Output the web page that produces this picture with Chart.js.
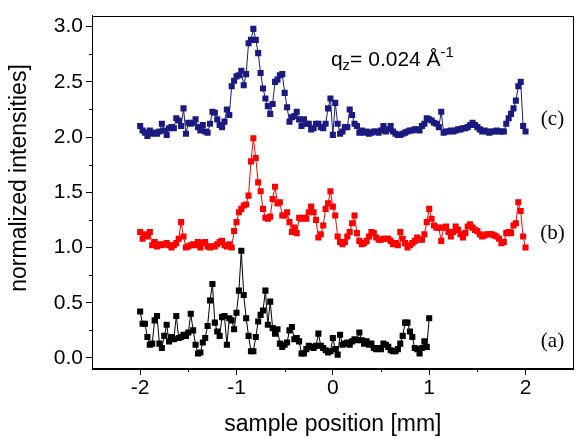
<!DOCTYPE html>
<html>
<head>
<meta charset="utf-8">
<script src="https://cdn.jsdelivr.net/npm/chart.js@4/dist/chart.umd.min.js"></script>
<style>
  html, body { margin: 0; padding: 0; background: #fff; }
  #wrap { width: 578px; height: 439px; }
</style>
</head>
<body>
<div id="wrap"><canvas id="chart" width="578" height="439"></canvas></div>
<script>
// sample positions in mm (shared by all three scans)
const positions = [
  -2.000, -1.975, -1.950, -1.925, -1.900, -1.875, -1.850, -1.825, -1.800, -1.775,
  -1.750, -1.725, -1.700, -1.675, -1.650, -1.625, -1.600, -1.575, -1.550, -1.525,
  -1.500, -1.475, -1.450, -1.425, -1.400, -1.375, -1.350, -1.325, -1.300, -1.275,
  -1.250, -1.225, -1.200, -1.175, -1.150, -1.125, -1.100, -1.075, -1.050, -1.025,
  -1.000, -0.975, -0.950, -0.925, -0.900, -0.875, -0.850, -0.825, -0.800, -0.775,
  -0.750, -0.725, -0.700, -0.675, -0.650, -0.625, -0.600, -0.575, -0.550, -0.525,
  -0.500, -0.475, -0.450, -0.425, -0.400, -0.375, -0.350, -0.325, -0.300, -0.275,
  -0.250, -0.225, -0.200, -0.175, -0.150, -0.125, -0.100, -0.075, -0.050, -0.025,
  0.000, 0.025, 0.050, 0.075, 0.100, 0.125, 0.150, 0.175, 0.200, 0.225,
  0.250, 0.275, 0.300, 0.325, 0.350, 0.375, 0.400, 0.425, 0.450, 0.475,
  0.500, 0.525, 0.550, 0.575, 0.600, 0.625, 0.650, 0.675, 0.700, 0.725,
  0.750, 0.775, 0.800, 0.825, 0.850, 0.875, 0.900, 0.925, 0.950, 0.975,
  1.000, 1.025, 1.050, 1.075, 1.100, 1.125, 1.150, 1.175, 1.200, 1.225,
  1.250, 1.275, 1.300, 1.325, 1.350, 1.375, 1.400, 1.425, 1.450, 1.475,
  1.500, 1.525, 1.550, 1.575, 1.600, 1.625, 1.650, 1.675, 1.700, 1.725,
  1.750, 1.775, 1.800, 1.825, 1.850, 1.875, 1.900, 1.925, 1.950, 1.975,
  2.000
];

// (a) – measured only from -2 to 1 mm
const scanA = [
  0.42, 0.31, 0.31, 0.19, 0.12, 0.13, 0.34, 0.38, 0.13, 0.09,
  0.20, 0.30, 0.15, 0.19, 0.17, 0.38, 0.18, 0.19, 0.21, 0.20,
  0.23, 0.40, 0.25, 0.12, 0.04, 0.05, 0.14, 0.18, 0.29, 0.52,
  0.67, 0.32, 0.24, 0.20, 0.37, 0.38, 0.12, 0.36, 0.34, 0.26,
  0.41, 0.61, 0.97, 0.57, 0.36, 0.20, 0.06, 0.06, 0.19, 0.33,
  0.39, 0.43, 0.61, 0.30, 0.51, 0.27, 0.22, 0.26, 0.13, 0.10,
  0.12, 0.14, 0.25, 0.28, 0.17, 0.18, 0.15, 0.04, 0.04, 0.08,
  0.11, 0.10, 0.09, 0.11, 0.22, 0.11, 0.09, 0.07, 0.05, 0.06,
  0.18, 0.08, 0.03, 0.21, 0.12, 0.13, 0.14, 0.12, 0.15, 0.17,
  0.16, 0.23, 0.16, 0.13, 0.15, 0.12, 0.13, 0.09, 0.08, 0.09,
  0.08, 0.13, 0.12, 0.10, 0.07, 0.06, 0.06, 0.08, 0.13, 0.20,
  0.32, 0.32, 0.24, 0.19, 0.09, 0.08, 0.04, 0.09, 0.15, 0.10,
  0.36
];

// (b)
const scanB = [
  1.14, 1.08, 1.12, 1.10, 1.14, 1.02, 1.05, 1.01, 1.03, 1.02,
  1.03, 1.04, 1.02, 1.00, 1.02, 1.04, 1.08, 1.23, 1.10, 1.00,
  1.01, 1.02, 1.03, 1.02, 1.05, 1.00, 1.04, 1.05, 1.01, 1.00,
  1.01, 1.01, 1.03, 1.05, 1.06, 1.02, 1.01, 1.03, 1.00, 1.15,
  1.23, 1.32, 1.35, 1.38, 1.39, 1.47, 1.78, 1.99, 1.81, 1.59,
  1.51, 1.35, 1.27, 1.26, 1.28, 1.44, 1.55, 1.40, 1.41, 1.29,
  1.29, 1.32, 1.23, 1.14, 1.18, 1.13, 1.27, 1.26, 1.27, 1.26,
  1.32, 1.37, 1.32, 1.25, 1.09, 1.12, 1.20, 1.35, 1.40, 1.51,
  1.37, 1.29, 1.10, 1.05, 1.03, 1.05, 1.10, 1.14, 1.22, 1.29,
  1.13, 1.06, 1.03, 1.04, 1.06, 1.10, 1.14, 1.13, 1.09, 1.07,
  1.07, 1.08, 1.08, 1.08, 1.06, 1.03, 1.04, 1.02, 1.14, 1.08,
  1.04, 1.00, 1.02, 1.04, 1.06, 1.09, 1.07, 1.07, 1.12, 1.23,
  1.35, 1.26, 1.20, 1.18, 1.18, 1.06, 1.18, 1.19, 1.14, 1.10,
  1.14, 1.19, 1.16, 1.12, 1.09, 1.13, 1.19, 1.21, 1.18, 1.16,
  1.15, 1.12, 1.10, 1.11, 1.12, 1.12, 1.12, 1.11, 1.10, 1.08,
  1.04, 1.05, 1.13, 1.14, 1.13, 1.20, 1.22, 1.41, 1.33, 1.10,
  1.00
];

// (c)
const scanC = [
  2.10, 2.06, 2.04, 2.01, 2.06, 2.03, 2.04, 2.03, 2.05, 2.12,
  2.06, 2.02, 2.08, 2.09, 2.08, 2.17, 2.15, 2.10, 2.26, 2.03,
  2.13, 2.12, 2.13, 2.16, 2.09, 2.06, 2.11, 2.05, 2.04, 2.12,
  2.23, 2.22, 2.16, 2.11, 2.09, 2.14, 2.25, 2.20, 2.46, 2.51,
  2.55, 2.56, 2.60, 2.47, 2.57, 2.85, 2.88, 2.98, 2.88, 2.76,
  2.58, 2.44, 2.35, 2.28, 2.21, 2.30, 2.50, 2.52, 2.56, 2.57,
  2.40, 2.27, 2.14, 2.18, 2.19, 2.23, 2.16, 2.10, 2.16, 2.12,
  2.12, 2.07, 2.08, 2.12, 2.12, 2.09, 2.08, 2.12, 2.26, 2.35,
  2.02, 2.31, 2.12, 2.03, 2.05, 2.09, 2.09, 2.25, 2.20, 2.12,
  2.10, 2.04, 2.06, 2.04, 2.05, 2.03, 2.04, 2.05, 2.05, 2.04,
  2.06, 2.10, 2.05, 2.07, 2.10, 2.05, 2.03, 2.02, 2.02, 2.03,
  2.04, 2.05, 2.06, 2.06, 2.07, 2.07, 2.06, 2.10, 2.12, 2.17,
  2.16, 2.15, 2.13, 2.12, 2.09, 2.23, 2.04, 2.05, 2.05, 2.06,
  2.05, 2.06, 2.07, 2.07, 2.08, 2.08, 2.09, 2.11, 2.13, 2.11,
  2.09, 2.07, 2.05, 2.06, 2.05, 2.04, 2.05, 2.05, 2.06, 2.05,
  2.05, 2.05, 2.12, 2.17, 2.21, 2.26, 2.33, 2.46, 2.50, 2.10,
  2.05
];

const xTicks = [-2, -1, 0, 1, 2];
const xMinorTicks = [-1.5, -0.5, 0.5, 1.5];
const yTicks = [0, 0.5, 1, 1.5, 2, 2.5, 3];
const yMinorTicks = [0.25, 0.75, 1.25, 1.75, 2.25, 2.75];

const scanLabels = ["(a)", "(b)", "(c)"];
const scanLabelLevels = [0.15, 1.13, 2.16];

const SANS = "'Liberation Sans', Arial, sans-serif";
const SERIF = "'Liberation Serif', 'Times New Roman', serif";

function points(values) {
  return values.map((y, i) => ({ x: positions[i], y: y }));
}

function scanDataset(values, color) {
  return {
    data: points(values),
    borderColor: color,
    backgroundColor: color,
    borderWidth: 1,
    pointStyle: "rect",
    pointRadius: 4.3,
    pointBorderWidth: 0,
    pointBackgroundColor: color,
    tension: 0
  };
}

const decorations = {
  id: "decorations",
  afterDraw(chart) {
    const { ctx, chartArea: area, scales } = chart;
    const xs = scales.x;
    const ys = scales.y;

    ctx.save();
    ctx.strokeStyle = "#000";
    ctx.lineWidth = 1;
    ctx.strokeRect(Math.round(area.left) + 0.5, Math.round(area.top) + 0.5,
      Math.round(area.right - area.left) - 1, Math.round(area.bottom - area.top) - 1);

    // minor ticks
    ctx.beginPath();
    xMinorTicks.forEach((v) => {
      const px = Math.round(xs.getPixelForValue(v)) + 0.5;
      ctx.moveTo(px, area.bottom);
      ctx.lineTo(px, area.bottom + 3);
    });
    yMinorTicks.forEach((v) => {
      const py = Math.round(ys.getPixelForValue(v)) + 0.5;
      ctx.moveTo(area.left, py);
      ctx.lineTo(area.left - 3, py);
    });
    ctx.stroke();

    // axis titles
    ctx.fillStyle = "#000";
    ctx.textAlign = "center";
    ctx.textBaseline = "middle";
    ctx.font = "23px " + SANS;
    ctx.fillText("sample position [mm]", (area.left + area.right) / 2, 425);
    ctx.save();
    ctx.translate(20, 178);
    ctx.rotate(-Math.PI / 2);
    ctx.fillText("normalized intensities]", 0, 0);
    ctx.restore();

    // scan labels
    ctx.font = "21px " + SERIF;
    scanLabels.forEach((label, i) => {
      ctx.fillText(label, xs.getPixelForValue(2.28), ys.getPixelForValue(scanLabelLevels[i]));
    });

    // q_z annotation
    ctx.textAlign = "left";
    ctx.textBaseline = "alphabetic";
    let x = xs.getPixelForValue(-0.02);
    const base = ys.getPixelForValue(2.645);
    ctx.font = "21px " + SANS;
    ctx.fillText("q", x, base);
    x += ctx.measureText("q").width;
    ctx.font = "15px " + SANS;
    ctx.fillText("z", x, base + 4);
    x += ctx.measureText("z").width;
    ctx.font = "21px " + SANS;
    const main = "= 0.024 \u00C5";
    ctx.fillText(main, x, base);
    x += ctx.measureText(main).width;
    ctx.font = "15px " + SANS;
    ctx.fillText("-1", x, base - 9);
    ctx.restore();
  }
};

new Chart(document.getElementById("chart"), {
  type: "line",
  data: {
    datasets: [
      scanDataset(scanA, "#000000"),
      scanDataset(scanB, "#ff0000"),
      scanDataset(scanC, "#1a1a80")
    ]
  },
  options: {
    responsive: false,
    devicePixelRatio: 1,
    animation: false,
    layout: { padding: { top: 11, right: 2, left: 0, bottom: 0 } },
    plugins: {
      legend: { display: false },
      tooltip: { enabled: false }
    },
    scales: {
      x: {
        type: "linear",
        min: -2.5,
        max: 2.5,
        afterBuildTicks: (scale) => { scale.ticks = xTicks.map((v) => ({ value: v })); },
        afterFit: (scale) => { scale.height = 70; },
        ticks: {
          color: "#000",
          font: { family: SANS, size: 21 },
          padding: 1,
          maxRotation: 0
        },
        grid: { drawOnChartArea: false, drawTicks: true, tickLength: 6, color: "#000", tickColor: "#000" },
        border: { color: "#000", width: 1 }
      },
      y: {
        type: "linear",
        min: -0.1,
        max: 3.1,
        afterBuildTicks: (scale) => { scale.ticks = yTicks.map((v) => ({ value: v })); },
        afterFit: (scale) => { scale.width = 92; },
        ticks: {
          color: "#000",
          font: { family: SANS, size: 21 },
          padding: 3,
          callback: (v) => Number(v).toFixed(1)
        },
        grid: { drawOnChartArea: false, drawTicks: true, tickLength: 6, color: "#000", tickColor: "#000" },
        border: { color: "#000", width: 1 }
      }
    }
  },
  plugins: [decorations]
});
</script>
</body>
</html>
